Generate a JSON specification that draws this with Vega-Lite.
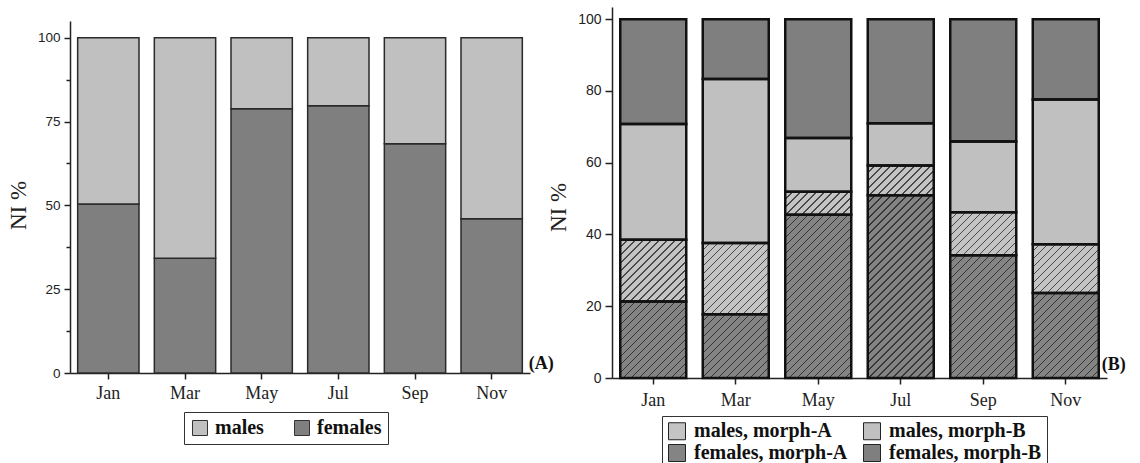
{
  "$schema": "https://vega.github.io/schema/vega-lite/v6.json",
  "background": "white",
  "padding": {"left": 7, "top": 7, "right": 5, "bottom": 0},
  "bounds": "flush",
  "spacing": 82,
  "params": [
    {"name": "hatchStops", "value": [
      {"offset": 0, "color": "rgba(0,0,0,0)"}, {"offset": 0.0259, "color": "rgba(0,0,0,0)"}, {"offset": 0.0259, "color": "rgba(20,20,20,0.7)"}, {"offset": 0.03125, "color": "rgba(20,20,20,0.7)"},
      {"offset": 0.03125, "color": "rgba(0,0,0,0)"}, {"offset": 0.0572, "color": "rgba(0,0,0,0)"}, {"offset": 0.0572, "color": "rgba(20,20,20,0.7)"}, {"offset": 0.0625, "color": "rgba(20,20,20,0.7)"},
      {"offset": 0.0625, "color": "rgba(0,0,0,0)"}, {"offset": 0.0884, "color": "rgba(0,0,0,0)"}, {"offset": 0.0884, "color": "rgba(20,20,20,0.7)"}, {"offset": 0.09375, "color": "rgba(20,20,20,0.7)"},
      {"offset": 0.09375, "color": "rgba(0,0,0,0)"}, {"offset": 0.1197, "color": "rgba(0,0,0,0)"}, {"offset": 0.1197, "color": "rgba(20,20,20,0.7)"}, {"offset": 0.125, "color": "rgba(20,20,20,0.7)"},
      {"offset": 0.125, "color": "rgba(0,0,0,0)"}, {"offset": 0.1509, "color": "rgba(0,0,0,0)"}, {"offset": 0.1509, "color": "rgba(20,20,20,0.7)"}, {"offset": 0.15625, "color": "rgba(20,20,20,0.7)"},
      {"offset": 0.15625, "color": "rgba(0,0,0,0)"}, {"offset": 0.1822, "color": "rgba(0,0,0,0)"}, {"offset": 0.1822, "color": "rgba(20,20,20,0.7)"}, {"offset": 0.1875, "color": "rgba(20,20,20,0.7)"},
      {"offset": 0.1875, "color": "rgba(0,0,0,0)"}, {"offset": 0.2134, "color": "rgba(0,0,0,0)"}, {"offset": 0.2134, "color": "rgba(20,20,20,0.7)"}, {"offset": 0.21875, "color": "rgba(20,20,20,0.7)"},
      {"offset": 0.21875, "color": "rgba(0,0,0,0)"}, {"offset": 0.2447, "color": "rgba(0,0,0,0)"}, {"offset": 0.2447, "color": "rgba(20,20,20,0.7)"}, {"offset": 0.25, "color": "rgba(20,20,20,0.7)"},
      {"offset": 0.25, "color": "rgba(0,0,0,0)"}, {"offset": 0.2759, "color": "rgba(0,0,0,0)"}, {"offset": 0.2759, "color": "rgba(20,20,20,0.7)"}, {"offset": 0.28125, "color": "rgba(20,20,20,0.7)"},
      {"offset": 0.28125, "color": "rgba(0,0,0,0)"}, {"offset": 0.3072, "color": "rgba(0,0,0,0)"}, {"offset": 0.3072, "color": "rgba(20,20,20,0.7)"}, {"offset": 0.3125, "color": "rgba(20,20,20,0.7)"},
      {"offset": 0.3125, "color": "rgba(0,0,0,0)"}, {"offset": 0.3384, "color": "rgba(0,0,0,0)"}, {"offset": 0.3384, "color": "rgba(20,20,20,0.7)"}, {"offset": 0.34375, "color": "rgba(20,20,20,0.7)"},
      {"offset": 0.34375, "color": "rgba(0,0,0,0)"}, {"offset": 0.3697, "color": "rgba(0,0,0,0)"}, {"offset": 0.3697, "color": "rgba(20,20,20,0.7)"}, {"offset": 0.375, "color": "rgba(20,20,20,0.7)"},
      {"offset": 0.375, "color": "rgba(0,0,0,0)"}, {"offset": 0.4009, "color": "rgba(0,0,0,0)"}, {"offset": 0.4009, "color": "rgba(20,20,20,0.7)"}, {"offset": 0.40625, "color": "rgba(20,20,20,0.7)"},
      {"offset": 0.40625, "color": "rgba(0,0,0,0)"}, {"offset": 0.4322, "color": "rgba(0,0,0,0)"}, {"offset": 0.4322, "color": "rgba(20,20,20,0.7)"}, {"offset": 0.4375, "color": "rgba(20,20,20,0.7)"},
      {"offset": 0.4375, "color": "rgba(0,0,0,0)"}, {"offset": 0.4634, "color": "rgba(0,0,0,0)"}, {"offset": 0.4634, "color": "rgba(20,20,20,0.7)"}, {"offset": 0.46875, "color": "rgba(20,20,20,0.7)"},
      {"offset": 0.46875, "color": "rgba(0,0,0,0)"}, {"offset": 0.4947, "color": "rgba(0,0,0,0)"}, {"offset": 0.4947, "color": "rgba(20,20,20,0.7)"}, {"offset": 0.5, "color": "rgba(20,20,20,0.7)"},
      {"offset": 0.5, "color": "rgba(0,0,0,0)"}, {"offset": 0.5259, "color": "rgba(0,0,0,0)"}, {"offset": 0.5259, "color": "rgba(20,20,20,0.7)"}, {"offset": 0.53125, "color": "rgba(20,20,20,0.7)"},
      {"offset": 0.53125, "color": "rgba(0,0,0,0)"}, {"offset": 0.5572, "color": "rgba(0,0,0,0)"}, {"offset": 0.5572, "color": "rgba(20,20,20,0.7)"}, {"offset": 0.5625, "color": "rgba(20,20,20,0.7)"},
      {"offset": 0.5625, "color": "rgba(0,0,0,0)"}, {"offset": 0.5884, "color": "rgba(0,0,0,0)"}, {"offset": 0.5884, "color": "rgba(20,20,20,0.7)"}, {"offset": 0.59375, "color": "rgba(20,20,20,0.7)"},
      {"offset": 0.59375, "color": "rgba(0,0,0,0)"}, {"offset": 0.6197, "color": "rgba(0,0,0,0)"}, {"offset": 0.6197, "color": "rgba(20,20,20,0.7)"}, {"offset": 0.625, "color": "rgba(20,20,20,0.7)"},
      {"offset": 0.625, "color": "rgba(0,0,0,0)"}, {"offset": 0.6509, "color": "rgba(0,0,0,0)"}, {"offset": 0.6509, "color": "rgba(20,20,20,0.7)"}, {"offset": 0.65625, "color": "rgba(20,20,20,0.7)"},
      {"offset": 0.65625, "color": "rgba(0,0,0,0)"}, {"offset": 0.6822, "color": "rgba(0,0,0,0)"}, {"offset": 0.6822, "color": "rgba(20,20,20,0.7)"}, {"offset": 0.6875, "color": "rgba(20,20,20,0.7)"},
      {"offset": 0.6875, "color": "rgba(0,0,0,0)"}, {"offset": 0.7134, "color": "rgba(0,0,0,0)"}, {"offset": 0.7134, "color": "rgba(20,20,20,0.7)"}, {"offset": 0.71875, "color": "rgba(20,20,20,0.7)"},
      {"offset": 0.71875, "color": "rgba(0,0,0,0)"}, {"offset": 0.7447, "color": "rgba(0,0,0,0)"}, {"offset": 0.7447, "color": "rgba(20,20,20,0.7)"}, {"offset": 0.75, "color": "rgba(20,20,20,0.7)"},
      {"offset": 0.75, "color": "rgba(0,0,0,0)"}, {"offset": 0.7759, "color": "rgba(0,0,0,0)"}, {"offset": 0.7759, "color": "rgba(20,20,20,0.7)"}, {"offset": 0.78125, "color": "rgba(20,20,20,0.7)"},
      {"offset": 0.78125, "color": "rgba(0,0,0,0)"}, {"offset": 0.8072, "color": "rgba(0,0,0,0)"}, {"offset": 0.8072, "color": "rgba(20,20,20,0.7)"}, {"offset": 0.8125, "color": "rgba(20,20,20,0.7)"},
      {"offset": 0.8125, "color": "rgba(0,0,0,0)"}, {"offset": 0.8384, "color": "rgba(0,0,0,0)"}, {"offset": 0.8384, "color": "rgba(20,20,20,0.7)"}, {"offset": 0.84375, "color": "rgba(20,20,20,0.7)"},
      {"offset": 0.84375, "color": "rgba(0,0,0,0)"}, {"offset": 0.8697, "color": "rgba(0,0,0,0)"}, {"offset": 0.8697, "color": "rgba(20,20,20,0.7)"}, {"offset": 0.875, "color": "rgba(20,20,20,0.7)"},
      {"offset": 0.875, "color": "rgba(0,0,0,0)"}, {"offset": 0.9009, "color": "rgba(0,0,0,0)"}, {"offset": 0.9009, "color": "rgba(20,20,20,0.7)"}, {"offset": 0.90625, "color": "rgba(20,20,20,0.7)"},
      {"offset": 0.90625, "color": "rgba(0,0,0,0)"}, {"offset": 0.9322, "color": "rgba(0,0,0,0)"}, {"offset": 0.9322, "color": "rgba(20,20,20,0.7)"}, {"offset": 0.9375, "color": "rgba(20,20,20,0.7)"},
      {"offset": 0.9375, "color": "rgba(0,0,0,0)"}, {"offset": 0.9634, "color": "rgba(0,0,0,0)"}, {"offset": 0.9634, "color": "rgba(20,20,20,0.7)"}, {"offset": 0.96875, "color": "rgba(20,20,20,0.7)"},
      {"offset": 0.96875, "color": "rgba(0,0,0,0)"}, {"offset": 0.9947, "color": "rgba(0,0,0,0)"}, {"offset": 0.9947, "color": "rgba(20,20,20,0.7)"}, {"offset": 1, "color": "rgba(20,20,20,0.7)"}
    ]}
  ],
  "config": {
    "view": {"stroke": null},
    "axis": {"grid": false, "domainColor": "#222", "domainWidth": 1.5, "tickColor": "#222", "tickWidth": 1.5, "labelColor": "#222", "titleColor": "#222"}
  },
  "resolve": {"scale": {"x": "independent", "y": "independent", "color": "independent"}, "legend": {"color": "independent"}},
  "datasets": {
    "a": [
      {"month": "Jan", "sex": "females", "NI": 50.4}, {"month": "Jan", "sex": "males", "NI": 49.6},
      {"month": "Mar", "sex": "females", "NI": 34.2}, {"month": "Mar", "sex": "males", "NI": 65.8},
      {"month": "May", "sex": "females", "NI": 78.8}, {"month": "May", "sex": "males", "NI": 21.2},
      {"month": "Jul", "sex": "females", "NI": 79.7}, {"month": "Jul", "sex": "males", "NI": 20.3},
      {"month": "Sep", "sex": "females", "NI": 68.4}, {"month": "Sep", "sex": "males", "NI": 31.6},
      {"month": "Nov", "sex": "females", "NI": 46.0}, {"month": "Nov", "sex": "males", "NI": 54.0}
    ],
    "b": [
      {"month": "Jan", "group": "females, morph-A", "NI": 21.3}, {"month": "Jan", "group": "males, morph-A", "NI": 17.2}, {"month": "Jan", "group": "males, morph-B", "NI": 32.3}, {"month": "Jan", "group": "females, morph-B", "NI": 29.2},
      {"month": "Mar", "group": "females, morph-A", "NI": 17.8}, {"month": "Mar", "group": "males, morph-A", "NI": 19.8}, {"month": "Mar", "group": "males, morph-B", "NI": 45.7}, {"month": "Mar", "group": "females, morph-B", "NI": 16.7},
      {"month": "May", "group": "females, morph-A", "NI": 45.5}, {"month": "May", "group": "males, morph-A", "NI": 6.4}, {"month": "May", "group": "males, morph-B", "NI": 15.0}, {"month": "May", "group": "females, morph-B", "NI": 33.1},
      {"month": "Jul", "group": "females, morph-A", "NI": 50.9}, {"month": "Jul", "group": "males, morph-A", "NI": 8.3}, {"month": "Jul", "group": "males, morph-B", "NI": 11.8}, {"month": "Jul", "group": "females, morph-B", "NI": 29.0},
      {"month": "Sep", "group": "females, morph-A", "NI": 34.2}, {"month": "Sep", "group": "males, morph-A", "NI": 12.0}, {"month": "Sep", "group": "males, morph-B", "NI": 19.7}, {"month": "Sep", "group": "females, morph-B", "NI": 34.1},
      {"month": "Nov", "group": "females, morph-A", "NI": 23.7}, {"month": "Nov", "group": "males, morph-A", "NI": 13.6}, {"month": "Nov", "group": "males, morph-B", "NI": 40.3}, {"month": "Nov", "group": "females, morph-B", "NI": 22.4}
    ],
    "labA": [{"month": "Nov", "NI": 0, "label": "(A)"}],
    "labB": [{"month": "Nov", "NI": 0, "label": "(B)"}]
  },
  "hconcat": [
    {
      "width": 460,
      "height": 366,
      "layer": [
        {
          "data": {"name": "a"},
          "transform": [{"calculate": "datum.sex === 'females' ? 0 : 1", "as": "ord"}],
          "mark": {"type": "bar", "stroke": "#2a2a2a", "strokeWidth": 1.5},
          "encoding": {
            "x": {"field": "month", "type": "nominal", "title": null,
                  "scale": {"domain": ["Jan", "Mar", "May", "Jul", "Sep", "Nov"], "paddingInner": 0.2, "paddingOuter": 0.1},
                  "axis": {"labelAngle": 0, "labelFont": "Liberation Serif", "labelFontSize": 18, "tickSize": 6, "labelPadding": 5}},
            "y": {"field": "NI", "type": "quantitative", "stack": "zero", "title": "NI %",
                  "scale": {"domain": [0, 105], "range": [366, 14], "nice": false},
                  "axis": {"values": [0, 12.5, 25, 37.5, 50, 62.5, 75, 87.5, 100],
                           "labelExpr": "datum.value % 25 === 0 ? datum.label : ''",
                           "tickSize": {"condition": {"test": "datum.value % 25 === 0", "value": 6}, "value": 4},
                           "labelFont": "Liberation Sans", "labelFontSize": 13.5, "labelPadding": 4,
                           "titleFont": "Liberation Serif", "titleFontSize": 23, "titleFontWeight": "normal", "titlePadding": 7, "titleY": 198}},
            "color": {"field": "sex", "type": "nominal",
                      "scale": {"domain": ["males", "females"], "range": ["#c0c0c0", "#7f7f7f"]},
                      "legend": {"orient": "none", "legendX": 114, "legendY": 405, "direction": "horizontal", "title": null,
                                 "strokeColor": "#333", "padding": 6, "symbolType": "square", "symbolSize": 225,
                                 "symbolStrokeColor": "#333", "symbolStrokeWidth": 1,
                                 "labelFont": "Liberation Serif", "labelFontSize": 20, "labelFontWeight": "bold", "labelColor": "#111",
                                 "labelOffset": 5, "columnPadding": 28}},
            "order": {"field": "ord"}
          }
        },
        {
          "data": {"name": "labA"},
          "mark": {"type": "text", "align": "left", "baseline": "middle", "dx": 37, "dy": -9, "font": "Liberation Serif", "fontSize": 18, "fontWeight": "bold", "color": "#111"},
          "encoding": {
            "x": {"field": "month", "type": "nominal"},
            "y": {"field": "NI", "type": "quantitative"},
            "text": {"field": "label"}
          }
        }
      ]
    },
    {
      "width": 495,
      "height": 371,
      "layer": [
        {
          "data": {"name": "b"},
          "transform": [
            {"calculate": "indexof(['females, morph-A', 'males, morph-A', 'males, morph-B', 'females, morph-B'], datum.group)", "as": "ord"},
            {"stack": "NI", "groupby": ["month"], "sort": [{"field": "ord", "order": "ascending"}], "as": ["y0", "y1"]}
          ],
          "encoding": {
            "x": {"field": "month", "type": "nominal", "title": null,
                  "scale": {"domain": ["Jan", "Mar", "May", "Jul", "Sep", "Nov"], "paddingInner": 0.2, "paddingOuter": 0.1},
                  "axis": {"labelAngle": 0, "labelFont": "Liberation Serif", "labelFontSize": 18, "tickSize": 6, "labelPadding": 7}},
            "y": {"field": "y0", "type": "quantitative", "title": "NI %",
                  "scale": {"domain": [0, 103.4], "nice": false},
                  "axis": {"values": [0, 10, 20, 30, 40, 50, 60, 70, 80, 90, 100],
                           "labelExpr": "datum.value % 20 === 0 ? datum.label : ''",
                           "tickSize": {"condition": {"test": "datum.value % 20 === 0", "value": 7}, "value": 4},
                           "labelFont": "Liberation Sans", "labelFontSize": 14, "labelPadding": 4,
                           "titleFont": "Liberation Serif", "titleFontSize": 23, "titleFontWeight": "normal", "titlePadding": 7, "titleY": 200}},
            "y2": {"field": "y1"}
          },
          "layer": [
            {
              "mark": {"type": "bar", "strokeWidth": 0},
              "encoding": {
                "color": {"field": "group", "type": "nominal",
                          "scale": {"domain": ["males, morph-A", "males, morph-B", "females, morph-A", "females, morph-B"], "range": ["#c4c4c4", "#c0c0c0", "#848484", "#7f7f7f"]},
                          "legend": {"orient": "none", "legendX": 50, "legendY": 409, "columns": 2, "direction": "horizontal", "title": null,
                                     "strokeColor": "#333", "padding": 5, "symbolType": "square", "symbolSize": 289,
                                     "symbolStrokeColor": "#222", "symbolStrokeWidth": 1,
                                     "labelFont": "Liberation Serif", "labelFontSize": 20, "labelFontWeight": "bold", "labelColor": "#111",
                                     "labelOffset": 7, "columnPadding": 13, "rowPadding": 0}}
              }
            },
            {
              "transform": [
                {"filter": "indexof(datum.group, 'morph-A') >= 0"},
                {"calculate": "{gradient: 'linear', x1: 0, y1: 0, x2: 256 * 66 / (66 * 66 + pow(datum.NI * 3.588, 2)), y2: 256 * datum.NI * 3.588 / (66 * 66 + pow(datum.NI * 3.588, 2)), stops: hatchStops}", "as": "hatch"}
              ],
              "mark": {"type": "bar", "strokeWidth": 0},
              "encoding": {
                "fill": {"field": "hatch", "type": "nominal", "scale": null}
              }
            },
            {
              "mark": {"type": "bar", "fillOpacity": 0, "fill": "white", "stroke": "#111", "strokeWidth": 2.5}
            }
          ]
        },
        {
          "data": {"name": "labB"},
          "mark": {"type": "text", "align": "left", "baseline": "middle", "dx": 36, "dy": -13, "font": "Liberation Serif", "fontSize": 18, "fontWeight": "bold", "color": "#111"},
          "encoding": {
            "x": {"field": "month", "type": "nominal"},
            "y": {"field": "NI", "type": "quantitative"},
            "text": {"field": "label"}
          }
        }
      ]
    }
  ]
}
